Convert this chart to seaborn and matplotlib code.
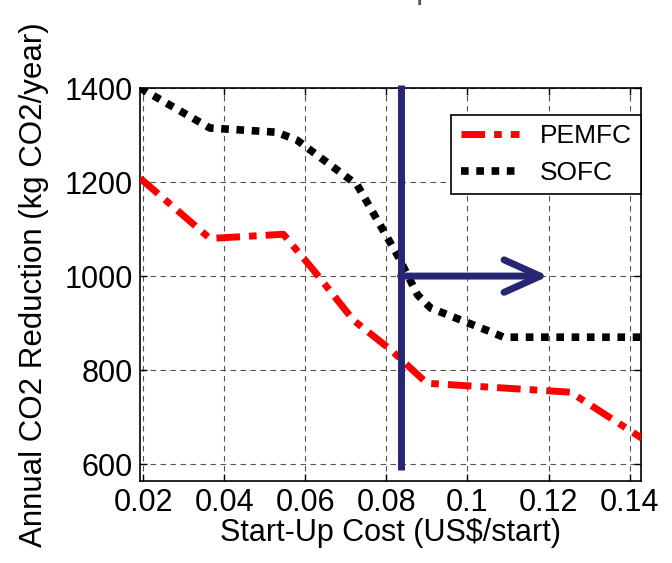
import numpy as np
import pandas as pd
import matplotlib
matplotlib.use("Agg")
import matplotlib.pyplot as plt
import seaborn as sns

# --- data ---
pemfc_cost = [0.0193, 0.0365, 0.0546, 0.0620, 0.0719, 0.0811, 0.0900, 0.1254, 0.1430]
pemfc_co2 = [1208, 1080, 1089, 1013, 906, 843, 772, 753, 655]

sofc_cost = [0.0193, 0.0365, 0.0530, 0.0580, 0.0728, 0.0785, 0.0827, 0.0877, 0.0909, 0.1064, 0.1089, 0.1430]
sofc_co2 = [1400, 1315, 1306, 1289, 1194, 1108, 1045, 960, 932, 879, 870, 870]

threshold_cost = 0.0835
threshold_span = [587, 1406]
arrow_level = 1000
arrow_end = 0.12

x_ticks = [0.02, 0.04, 0.06, 0.08, 0.1, 0.12, 0.14]
x_tick_labels = ["0.02", "0.04", "0.06", "0.08", "0.1", "0.12", "0.14"]
y_ticks = [600, 800, 1000, 1200, 1400]

pemfc_df = pd.DataFrame({"cost": pemfc_cost, "co2": pemfc_co2})
sofc_df = pd.DataFrame({"cost": sofc_cost, "co2": sofc_co2})

sns.set_style("ticks")
plt.rcParams['font.family'] = ['Liberation Sans', 'DejaVu Sans']
plt.rcParams['xtick.direction'] = 'in'
plt.rcParams['ytick.direction'] = 'in'
plt.rcParams['text.color'] = 'black'
plt.rcParams['axes.labelcolor'] = 'black'
plt.rcParams['xtick.color'] = 'black'
plt.rcParams['ytick.color'] = 'black'

fig = plt.figure(figsize=(6.72, 5.63), dpi=100)
ax = fig.add_axes([0.208, 0.1456, 0.746, 0.698])

sns.lineplot(data=pemfc_df, x="cost", y="co2", ax=ax, color="#ff0000",
             linewidth=5, label="PEMFC", sort=False,
             dashes=False, linestyle=(0, (3.4, 1.3, 1.1, 1.3)),
             solid_capstyle="butt", dash_capstyle="butt", zorder=3)
sns.lineplot(data=sofc_df, x="cost", y="co2", ax=ax, color="black",
             linewidth=5.5, label="SOFC", sort=False,
             dashes=False, linestyle=(0, (1.0, 1.0)),
             dash_capstyle="butt", zorder=3)

# threshold marker and arrow
ax.plot([threshold_cost, threshold_cost], threshold_span, color="#262673",
        linewidth=5, clip_on=False, zorder=4, solid_capstyle="butt")
ax.annotate("", xy=(arrow_end, arrow_level), xytext=(threshold_cost, arrow_level),
            arrowprops=dict(arrowstyle="->, head_length=1.0, head_width=0.45",
                            mutation_scale=26, color="#262673", lw=5,
                            shrinkA=0, shrinkB=0, capstyle="round",
                            joinstyle="round"),
            zorder=4)

ax.set_xlim(0.0192, 0.1428)
ax.set_ylim(564, 1400)
ax.set_xticks(x_ticks)
ax.set_xticklabels(x_tick_labels)
ax.set_yticks(y_ticks)
ax.tick_params(axis="both", labelsize=22, length=5, width=1, color="black",
               top=True, right=True, pad=5)
ax.grid(True, color="#555555", linestyle=(0, (5, 4)), linewidth=0.8)
for spine in ax.spines.values():
    spine.set_visible(True)
    spine.set_linewidth(1.2)
    spine.set_color("black")

ax.set_xlabel("Start-Up Cost (US$/start)", fontsize=22, labelpad=0)
ax.set_ylabel("Annual CO2 Reduction (kg CO2/year)", fontsize=22.5, labelpad=11)

leg = ax.legend(loc="upper right", bbox_to_anchor=(1.0, 0.932), fontsize=19,
                frameon=True, fancybox=False, handlelength=2.2,
                borderaxespad=0, labelspacing=0.5, handletextpad=0.8,
                borderpad=0.35)
leg.get_frame().set_edgecolor("black")
leg.get_frame().set_linewidth(1.2)
leg.get_frame().set_alpha(1)

# cut-off title descender at the top edge
fig.text(416 / 672, 1.004, "p", fontsize=24, color="#555555", ha="left",
         va="baseline")

fig.savefig("out.png", dpi=100)
